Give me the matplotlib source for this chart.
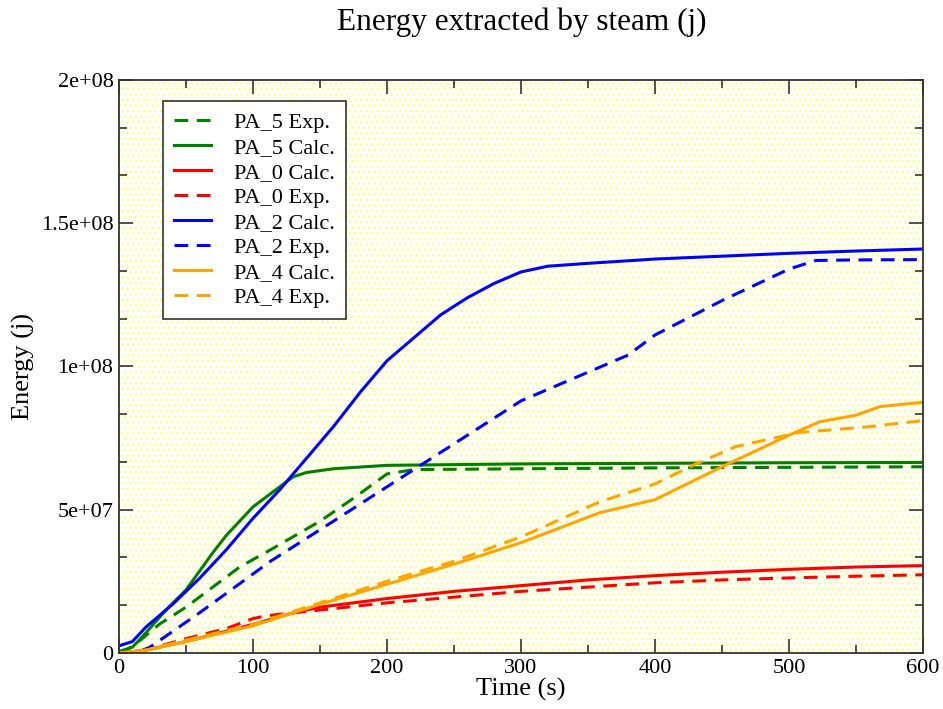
import matplotlib
matplotlib.use("Agg")
import matplotlib.pyplot as plt
from matplotlib.patches import Rectangle
from matplotlib.ticker import MultipleLocator

plt.rcParams['font.family'] = ['Liberation Serif', 'DejaVu Serif']
plt.rcParams['hatch.linewidth'] = 1.0

# PA_5 (green)
pa5_calc_t = [0, 10, 20, 35, 50, 70, 80, 100, 120, 130, 140, 160, 200, 300, 400, 500, 600]
pa5_calc_e = [0.5e6, 2e6, 7e6, 15e6, 22e6, 35e6, 41e6, 51e6, 58e6, 61.5e6, 63e6, 64.3e6, 65.5e6, 66e6, 66.2e6, 66.4e6, 66.5e6]
pa5_exp_t = [0, 7, 16, 30, 50, 90, 113, 150, 175, 200, 220, 300, 400, 500, 600]
pa5_exp_e = [0, 1.5e6, 4.5e6, 10e6, 16e6, 30e6, 36e6, 46e6, 54e6, 62.5e6, 64e6, 64.3e6, 64.6e6, 64.8e6, 65e6]

# PA_0 (red)
pa0_calc_t = [0, 20, 50, 100, 130, 150, 200, 250, 300, 350, 400, 450, 500, 550, 600]
pa0_calc_e = [0, 1e6, 4e6, 10e6, 14e6, 16e6, 19e6, 21.5e6, 23.5e6, 25.5e6, 27e6, 28.2e6, 29.2e6, 30e6, 30.5e6]
pa0_exp_t = [0, 20, 50, 80, 100, 110, 150, 200, 250, 300, 350, 400, 450, 500, 550, 600]
pa0_exp_e = [0, 1e6, 5e6, 8.5e6, 12e6, 13e6, 15e6, 17.5e6, 19.5e6, 21.5e6, 23e6, 24.5e6, 25.5e6, 26.2e6, 26.8e6, 27.3e6]

# PA_2 (blue)
pa2_calc_t = [0, 10, 20, 40, 60, 80, 100, 120, 140, 160, 180, 200, 220, 240, 260, 280, 300, 320, 350, 400, 450, 500, 550, 600]
pa2_calc_e = [2.5e6, 4e6, 9e6, 17e6, 26e6, 36e6, 47e6, 57e6, 68e6, 79e6, 91e6, 102e6, 110e6, 118e6, 124e6, 129e6, 133e6, 135e6, 136e6, 137.5e6, 138.5e6, 139.5e6, 140.3e6, 141e6]
pa2_exp_t = [0, 15, 23, 60, 113, 160, 225, 300, 350, 380, 400, 450, 500, 520, 550, 600]
pa2_exp_e = [0, 0.5e6, 2e6, 14e6, 32e6, 46e6, 65.5e6, 88e6, 98e6, 104e6, 111e6, 123e6, 134e6, 137e6, 137.2e6, 137.3e6]

# PA_4 (orange)
pa4_calc_t = [0, 20, 50, 100, 150, 200, 250, 300, 359, 400, 450, 500, 523, 550, 568, 600]
pa4_calc_e = [0, 1e6, 4e6, 9.5e6, 17e6, 24e6, 31e6, 38.5e6, 49e6, 53.5e6, 65e6, 76e6, 80.7e6, 83e6, 86e6, 87.5e6]
pa4_exp_t = [0, 20, 50, 100, 150, 200, 250, 300, 359, 400, 426, 460, 508, 530, 560, 598]
pa4_exp_e = [0, 1e6, 4.5e6, 10e6, 17.5e6, 25e6, 32e6, 40.5e6, 52.8e6, 59e6, 65e6, 72e6, 77e6, 77.8e6, 79e6, 81e6]

fig = plt.figure(figsize=(9.43, 7.09), dpi=100)
ax = fig.add_axes([0.1262, 0.079, 0.8526, 0.8082])

# dotted yellow background
ax.set_facecolor('white')
ax.add_patch(Rectangle((0, 0), 1, 1, transform=ax.transAxes, facecolor='none',
                       edgecolor='#ffff70', hatch='...', linewidth=0, zorder=0))

lw = 2.2
dash = (0, (4.5, 2.8))
ax.plot(pa5_exp_t, pa5_exp_e, color='green', lw=lw, linestyle=dash, label='PA_5 Exp.')
ax.plot(pa5_calc_t, pa5_calc_e, color='green', lw=lw, label='PA_5 Calc.')
ax.plot(pa0_calc_t, pa0_calc_e, color='red', lw=lw, label='PA_0 Calc.')
ax.plot(pa0_exp_t, pa0_exp_e, color='red', lw=lw, linestyle=dash, label='PA_0 Exp.')
ax.plot(pa2_calc_t, pa2_calc_e, color='blue', lw=lw, label='PA_2 Calc.')
ax.plot(pa2_exp_t, pa2_exp_e, color='blue', lw=lw, linestyle=dash, label='PA_2 Exp.')
ax.plot(pa4_calc_t, pa4_calc_e, color='orange', lw=lw, label='PA_4 Calc.')
ax.plot(pa4_exp_t, pa4_exp_e, color='orange', lw=lw, linestyle=dash, label='PA_4 Exp.')

ax.set_xlim(0, 600)
ax.set_ylim(0, 2e8)
ax.xaxis.set_major_locator(MultipleLocator(100))
ax.xaxis.set_minor_locator(MultipleLocator(50))
ax.yaxis.set_minor_locator(MultipleLocator(5e7 / 3))
ax.set_yticks([0, 5e7, 1e8, 1.5e8, 2e8])
ax.set_yticklabels(['0', '5e+07', '1e+08', '1.5e+08', '2e+08'])
ax.tick_params(which='both', direction='in', top=True, right=True, labelsize=16,
               width=1.2, color='#333333')
ax.tick_params(which='major', length=10, pad=4)
ax.tick_params(which='minor', length=6)
for s in ax.spines.values():
    s.set_linewidth(1.3)
    s.set_color('#333333')

ax.set_xlabel('Time (s)', fontsize=19, labelpad=0)
ax.set_ylabel('Energy (j)', fontsize=19, labelpad=4)
fig.text(0.553, 0.969, 'Energy extracted by steam (j)', fontsize=22.5, ha='center', va='center')

leg = ax.legend(loc='upper left', bbox_to_anchor=(0.0547, 0.963), borderaxespad=0,
                fontsize=16, frameon=True, fancybox=False, edgecolor='#333333',
                framealpha=1, handlelength=1.65, labelspacing=0.2, borderpad=0.5,
                handletextpad=1.05)
leg.get_frame().set_linewidth(1.2)

fig.savefig('out.png', dpi=100)
